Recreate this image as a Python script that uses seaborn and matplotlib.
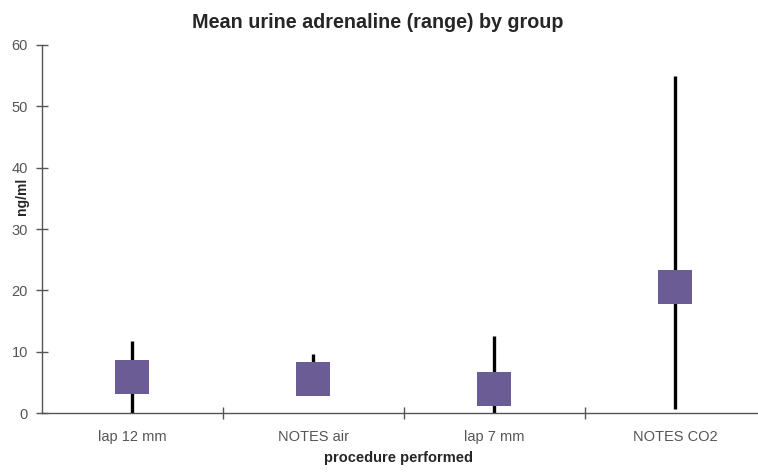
import matplotlib
matplotlib.use("Agg")
import matplotlib.pyplot as plt
from matplotlib.ticker import FixedLocator, MultipleLocator
import seaborn as sns
import pandas as pd

# Mean urine adrenaline per group with its observed range (ng/ml)
groups = ["lap 12 mm", "NOTES air", "lap 7 mm", "NOTES CO2"]
mean_vals = [5.8, 5.6, 3.9, 20.5]
range_min = [0.0, 3.5, 0.0, 0.6]
range_max = [11.8, 9.7, 12.6, 55.0]

df = pd.DataFrame({
    "group": groups,
    "pos": range(len(groups)),
    "mean": mean_vals,
    "lo": range_min,
    "hi": range_max,
})

sns.set_theme(style="white")
plt.rcParams["font.family"] = ["Liberation Sans", "DejaVu Sans"]

fig = plt.figure(figsize=(7.58, 4.73), dpi=100)
ax = fig.add_axes([0.0554, 0.1268, 0.9446, 0.7781])

# range lines behind the mean markers
ax.vlines(df["pos"], df["lo"], df["hi"], color="black", linewidth=2.4, zorder=2)
sns.scatterplot(data=df, x="pos", y="mean", marker="s", s=580, color="#6b5c96",
                edgecolor="#6b5c96", linewidth=0, ax=ax, zorder=3, legend=False)

ax.set_xlim(-0.5, 3.457)
ax.set_ylim(0, 60)
ax.yaxis.set_major_locator(MultipleLocator(10))
ax.set_xticks(df["pos"])
ax.set_xticklabels(df["group"])
ax.xaxis.set_minor_locator(FixedLocator([0.5, 1.5, 2.5]))

for side in ("top", "right"):
    ax.spines[side].set_visible(False)
for side in ("left", "bottom"):
    ax.spines[side].set_color("#555555")
    ax.spines[side].set_linewidth(1.0)

ax.tick_params(axis="y", which="major", direction="inout", length=8, width=1,
               color="#555555", labelsize=10.5, labelcolor="#555555", pad=6, left=True)
ax.tick_params(axis="x", which="major", length=0, labelsize=10.5,
               labelcolor="#555555", pad=12)
ax.tick_params(axis="x", which="minor", direction="inout", length=8, width=1,
               color="#555555", bottom=True)

ax.set_xlabel("procedure performed", fontsize=10.5, fontweight="bold")
ax.set_ylabel("ng/ml", fontsize=10, fontweight="bold")
ax.xaxis.set_label_coords(0.4986, -0.103)
ax.yaxis.set_label_coords(-0.028, 0.59)
ax.yaxis.label.set_verticalalignment("center")

ax.set_title("Mean urine adrenaline (range) by group", fontsize=14.2,
             fontweight="bold", x=0.4686, pad=12)

fig.savefig("out.png", dpi=100)
